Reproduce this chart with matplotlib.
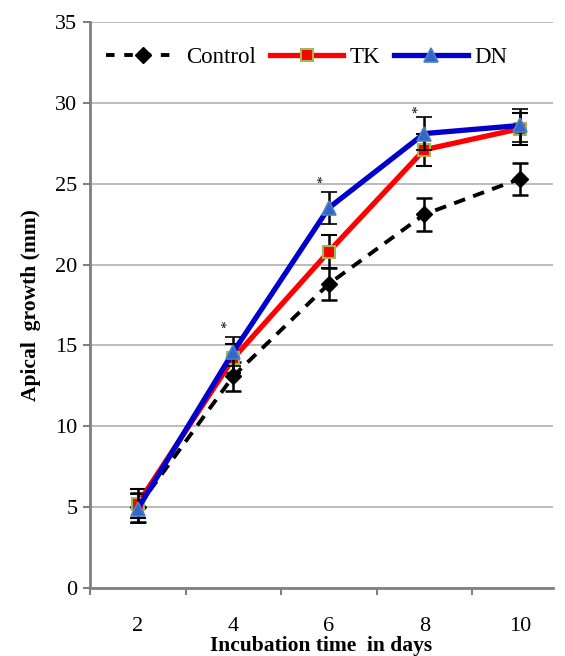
import numpy as np
import matplotlib.pyplot as plt
from matplotlib.lines import Line2D

days = ['2', '4', '6', '8', '10']
control = [5.0, 13.1, 18.8, 23.1, 25.3]
control_err = [0.9, 0.9, 1.0, 1.0, 1.0]
tk = [5.2, 14.2, 20.8, 27.1, 28.4]
tk_err = [0.9, 0.9, 1.0, 1.0, 1.0]
dn = [4.9, 14.6, 23.5, 28.1, 28.6]
dn_err = [0.9, 0.9, 1.0, 1.0, 1.0]
star_pos = [1, 2, 3]
star_y = [16.3, 25.3, 29.6]

plt.rcParams['font.family'] = ['Liberation Serif', 'DejaVu Serif']

fig = plt.figure(figsize=(5.65, 6.56), dpi=100)
ax = fig.add_axes([90/565, 1-588/656, (553-90)/565, (588-22)/656])

x = np.arange(len(days))

ax.errorbar(x, control, yerr=control_err, color='black', lw=2.8, ls=(0, (3, 2.2)),
            marker='D', ms=8, mfc='black', mec='black', ecolor='black',
            elinewidth=1.8, capsize=6, capthick=1.8, zorder=3)
ax.errorbar(x, tk, yerr=tk_err, color='#ff0000', lw=3.8, marker='s', ms=9,
            mfc='#ff0000', mec='#9bbb59', mew=1.5, ecolor='black',
            elinewidth=1.8, capsize=6, capthick=1.8, zorder=4)
ax.errorbar(x, dn, yerr=dn_err, color='#0000cc', lw=3.8, marker='^', ms=10,
            mfc='#3366cc', mec='#4f81bd', mew=1.2, ecolor='black',
            elinewidth=1.8, capsize=6, capthick=1.8, zorder=5)

for p, yy in zip(star_pos, star_y):
    ax.text(p - 0.06, yy, '*', rotation=90, fontsize=11, ha='center', va='center')

ax.set_ylim(0, 35)
ax.set_yticks(range(0, 36, 5))
ax.set_xticks(x)
ax.set_xticklabels(days)
ax.set_xticks(np.arange(-0.5, 4.4, 1), minor=True)
ax.set_xlim(-0.5, -0.5 + (553-90)/95.5)
ax.tick_params(axis='x', which='major', length=0, pad=21, labelsize=16)
ax.tick_params(axis='x', which='minor', length=5, width=1.5, color='#808080', direction='out')
ax.tick_params(axis='y', length=5, width=1.5, color='#808080', labelsize=16, pad=4)

ax.grid(axis='y', color='#b0b0b0', lw=1.2)
ax.set_axisbelow(True)
for s in ['top', 'right']:
    ax.spines[s].set_visible(False)
for s in ['left', 'bottom']:
    ax.spines[s].set_color('#808080')
    ax.spines[s].set_linewidth(2)

ax.set_ylabel('Apical  growth (mm)', fontsize=15.5, fontweight='bold', labelpad=10)
ax.set_xlabel('Incubation time  in days', fontsize=15.5, fontweight='bold', labelpad=0)

handles = [
    Line2D([], [], color='black', lw=2.8, ls=(0, (2.2, 2.5)), marker='D', ms=8, mfc='black', mec='black'),
    Line2D([], [], color='#ff0000', lw=3.8, marker='s', ms=9, mfc='#ff0000', mec='#9bbb59', mew=1.5),
    Line2D([], [], color='#0000cc', lw=3.8, marker='^', ms=10, mfc='#3366cc', mec='#4f81bd', mew=1.2),
]
ax.legend(handles, ['Control', 'TK', 'DN'], loc='upper left', ncol=3, frameon=False,
          fontsize=16.5, handlelength=3.2, columnspacing=0.6, handletextpad=0.3,
          bbox_to_anchor=(0.0, 0.985), borderaxespad=0.3)

plt.savefig('out.png', dpi=100)
plt.close()
